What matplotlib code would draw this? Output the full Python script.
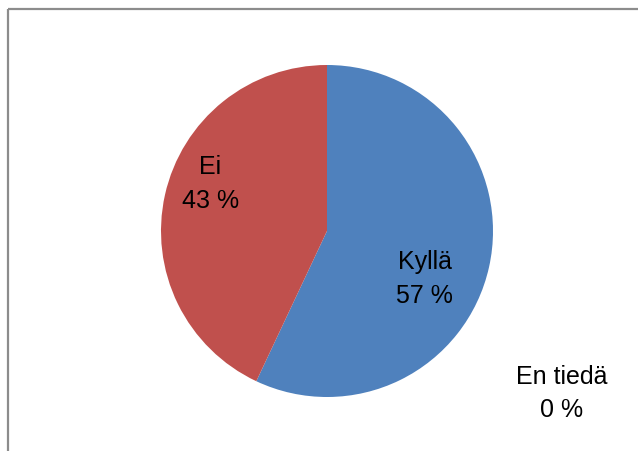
import matplotlib
matplotlib.use("Agg")
import matplotlib.pyplot as plt

# Vastaukset
labels = ["Kyllä", "Ei", "En tiedä"]
values = [57, 43, 0]
colors = ["#4F81BD", "#C0504D", "#9BBB59"]

W, H = 638, 451
fig = plt.figure(figsize=(W / 100, H / 100), dpi=100)
ax = fig.add_axes([0, 0, 1, 1])

# Ympyrä (keskipiste ja säde pikseleinä); y-akseli käännetty,
# joten kulmat ja suunta on peilattu
cx, cy, r = 327, 231, 166
ax.pie(values, colors=colors, startangle=-90, counterclock=True,
       center=(cx, cy), radius=r, frame=True,
       wedgeprops=dict(linewidth=0))
ax.set_xlim(0, W)
ax.set_ylim(H, 0)
ax.set_aspect("equal")
ax.axis("off")

# Otsikot ja prosentit
label_pos = [(424.5, 279), (210.5, 184), (562, 393.5)]
for name, v, (x, y) in zip(labels, values, label_pos):
    ax.text(x, y, f"{name}\n{v} %", ha="center", va="center",
            fontsize=18, family="Liberation Sans", color="black",
            linespacing=1.5)

# Kehys ylhäällä ja vasemmalla
ax.plot([8, W], [9, 9], color="#8c8c8c", lw=1.6, solid_capstyle="butt")
ax.plot([8, 8], [9, H], color="#8c8c8c", lw=1.6, solid_capstyle="butt")

fig.savefig("out.png", dpi=100, facecolor="white")
